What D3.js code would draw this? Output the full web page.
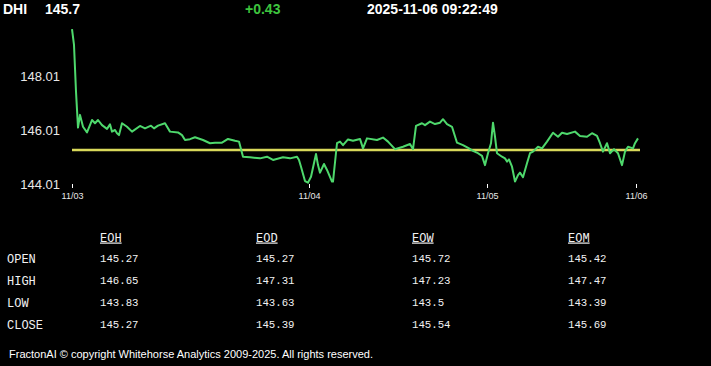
<!DOCTYPE html>
<html>
<head>
<meta charset="utf-8">
<script src="https://cdn.jsdelivr.net/npm/d3@7"></script>
<style>
html,body{margin:0;padding:0;background:#000;}
svg{display:block;}
</style>
</head>
<body>
<svg id="chart" width="711" height="366"></svg>
<script>
// ---- data ----
const symbol = "DHI";
const lastPrice = "145.7";
const change = "+0.43";
const timestamp = "2025-11-06 09:22:49";

// bar index (intraday sequence) and price
const barIndex = [0,2,4,6,8,11,15,20,23,26,30,35,38,40,43,45,47,50,55,60,68,73,79,82,86,93,98,106,110,113,118,123,131,138,143,150,156,163,167,171,178,188,195,201,211,218,225,227,229,233,236,239,244,246,248,252,255,260,261,265,268,271,276,281,288,291,295,305,311,316,323,331,338,341,344,350,353,358,363,368,371,375,380,385,391,397,401,406,410,413,416,419,421,423,425,430,433,435,437,440,443,446,448,451,455,458,461,466,470,475,481,486,490,495,503,508,515,520,525,528,531,535,538,542,546,550,553,556,561,563,566];
const price = [149.75,149.16,147.43,146.10,146.57,146.13,145.92,146.38,146.26,146.38,146.19,146.05,146.22,145.95,146.01,145.89,145.82,146.26,146.13,145.95,146.16,146.07,146.17,146.07,146.17,146.26,145.95,145.92,145.82,145.64,145.67,145.74,145.64,145.52,145.54,145.54,145.68,145.61,145.58,145.02,145.00,144.96,145.02,144.90,145.00,144.96,145.02,144.90,144.65,144.12,144.06,144.28,145.12,144.71,144.43,144.75,144.53,144.10,144.10,145.52,145.58,145.45,145.66,145.61,145.68,145.33,145.70,145.64,145.73,145.58,145.30,145.39,145.49,145.30,146.16,146.26,146.19,146.32,146.23,146.28,146.41,146.23,146.13,145.54,145.45,145.33,145.24,145.15,145.05,144.71,145.15,145.52,146.28,145.76,145.15,145.02,144.96,144.84,144.92,144.65,144.10,144.34,144.43,144.26,144.78,145.15,145.21,145.39,145.33,145.58,145.91,145.76,145.91,145.86,145.95,145.79,145.76,145.89,145.79,145.52,145.21,145.52,145.15,145.30,145.15,144.71,145.21,145.39,145.33,145.52,145.70];
const referencePrice = 145.27;

const yTicks = [144.01, 146.01, 148.01];
const xTickIndex = [0, 237, 415, 564];
const xTickLabels = ["11/03", "11/04", "11/05", "11/06"];

const tableColumns = ["EOH", "EOD", "EOW", "EOM"];
const tableRows = ["OPEN", "HIGH", "LOW", "CLOSE"];
const openVals  = ["145.27", "145.27", "145.72", "145.42"];
const highVals  = ["146.65", "147.31", "147.23", "147.47"];
const lowVals   = ["143.83", "143.63", "143.5", "143.39"];
const closeVals = ["145.27", "145.39", "145.54", "145.69"];

const footer = "FractonAI \u00A9 copyright Whitehorse Analytics 2009-2025. All rights reserved.";

// ---- drawing ----
const svg = d3.select("#chart");
svg.append("rect").attr("width", 711).attr("height", 366).attr("fill", "#000");

const head = svg.append("g").attr("font-family", "Liberation Sans, Arial, sans-serif")
  .attr("font-weight", "bold").attr("font-size", 14);
head.append("text").attr("x", 3).attr("y", 14).attr("fill", "#fff").text(symbol);
head.append("text").attr("x", 45).attr("y", 14).attr("fill", "#fff").text(lastPrice);
head.append("text").attr("x", 245).attr("y", 14).attr("fill", "#3ec43e").text(change);
head.append("text").attr("x", 367).attr("y", 14).attr("fill", "#fff").text(timestamp);

const x = d3.scaleLinear().domain([0, 566]).range([72, 638]);
const y = d3.scaleLinear().domain([144.01, 148.01]).range([184, 76]);

// y axis labels
const yAxis = svg.append("g").attr("transform", "translate(60,0)")
  .call(d3.axisLeft(y).tickValues(yTicks).tickFormat(d3.format(".2f")).tickSize(0).tickPadding(0));
yAxis.select(".domain").remove();
yAxis.selectAll("text").attr("fill", "#e8e8e8").attr("font-size", 13)
  .attr("font-family", "Liberation Sans, Arial, sans-serif").attr("dy", "0.36em");

// x axis
const xAxis = svg.append("g").attr("transform", "translate(0,184)")
  .call(d3.axisBottom(x).tickValues(xTickIndex).tickFormat((d, i) => xTickLabels[i]).tickSize(4).tickPadding(5));
xAxis.select(".domain").remove();
xAxis.selectAll("line").attr("stroke", "#fff");
xAxis.selectAll("text").attr("fill", "#e8e8e8").attr("font-size", 9)
  .attr("font-family", "Liberation Sans, Arial, sans-serif");

// reference line
svg.append("line")
  .attr("x1", x(0)).attr("x2", x(568))
  .attr("y1", y(referencePrice)).attr("y2", y(referencePrice))
  .attr("stroke", "#d9d95a").attr("stroke-width", 2.5);

// price line
const pts = barIndex.map((b, i) => [b, price[i]]);
svg.append("path").datum(pts)
  .attr("fill", "none").attr("stroke", "#4ed86c").attr("stroke-width", 2)
  .attr("stroke-linejoin", "round")
  .attr("d", d3.line().x(d => x(d[0])).y(d => y(d[1])));

// table
const colX = d3.scalePoint().domain(tableColumns).range([100, 568]);
const rowY = d3.scalePoint().domain(tableRows).range([261.5, 327.5]);
const tbl = svg.append("g").attr("font-family", "Liberation Mono, DejaVu Sans Mono, monospace").attr("fill", "#f2f2f2");
tableColumns.forEach(c => {
  tbl.append("text").attr("x", colX(c)).attr("y", 241.5).attr("font-size", 12)
    .attr("text-decoration", "underline").text(c);
});
const rowValues = [openVals, highVals, lowVals, closeVals];
tableRows.forEach((r, ri) => {
  tbl.append("text").attr("x", 7).attr("y", rowY(r) + 1.5).attr("font-size", 12).text(r);
  tableColumns.forEach((c, ci) => {
    tbl.append("text").attr("x", colX(c)).attr("y", rowY(r)).attr("font-size", 10.7).text(rowValues[ri][ci]);
  });
});

// footer
svg.append("text").attr("x", 9).attr("y", 358).attr("fill", "#fff")
  .attr("font-family", "Liberation Sans, Arial, sans-serif").attr("font-size", 10)
  .attr("textLength", 364).attr("lengthAdjust", "spacingAndGlyphs").text(footer);
</script>
</body>
</html>
